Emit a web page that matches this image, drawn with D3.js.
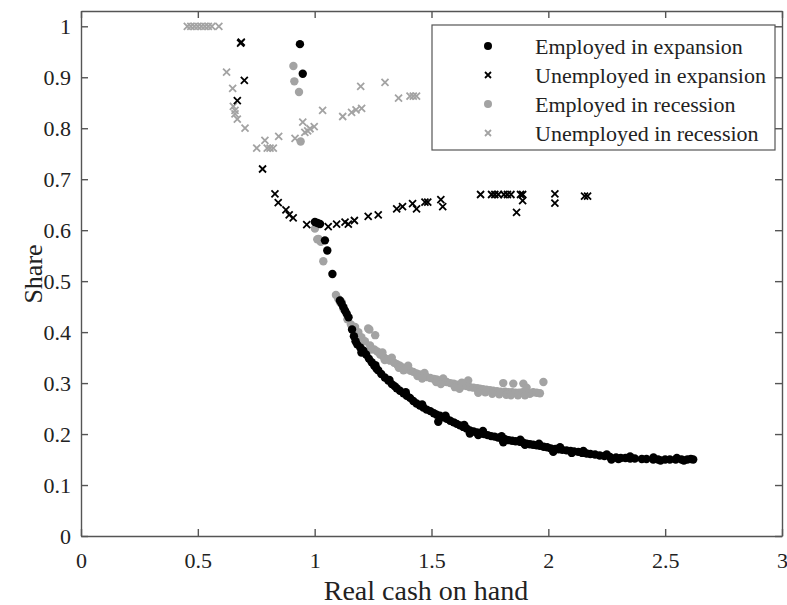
<!DOCTYPE html>
<html><head><meta charset="utf-8">
<script src="https://cdn.jsdelivr.net/npm/d3@7"></script>
<style>body{margin:0;background:#fff;} svg{display:block;}</style>
</head><body>
<script>
// ---- data ----
const xTicks = [0, 0.5, 1, 1.5, 2, 2.5, 3];
const yTicks = [0, 0.1, 0.2, 0.3, 0.4, 0.5, 0.6, 0.7, 0.8, 0.9, 1];
const xLabel = "Real cash on hand";
const yLabel = "Share";
const seriesNames = ["Employed in expansion", "Unemployed in expansion", "Employed in recession", "Unemployed in recession"];

const employedExpansion = [
[0.937,0.965],[0.949,0.907],[1.001,0.616],[1.012,0.614],[1.023,0.612],[1.044,0.580],[1.054,0.560],[1.076,0.514],
[1.108,0.462],[1.115,0.456],[1.123,0.449],[1.130,0.442],[1.137,0.436],[1.145,0.429],[1.160,0.405],[1.168,0.392],
[1.175,0.382],[1.182,0.376],[1.195,0.370],[1.208,0.364],[1.220,0.356],[1.232,0.348],[1.244,0.341],[1.255,0.334],
[1.265,0.328],[1.272,0.325],[1.285,0.318],[1.300,0.311],[1.315,0.305],[1.330,0.298],[1.342,0.294],[1.351,0.290],
[1.365,0.285],[1.380,0.280],[1.394,0.275],[1.408,0.271],[1.422,0.265],[1.436,0.260],[1.450,0.256],[1.465,0.252],
[1.479,0.248],[1.495,0.245],[1.510,0.241],[1.522,0.238],[1.529,0.224],[1.536,0.236],[1.550,0.233],[1.565,0.230],
[1.580,0.226],[1.595,0.223],[1.608,0.220],[1.622,0.217],[1.636,0.214],[1.650,0.211],[1.664,0.207],[1.664,0.201],
[1.680,0.205],[1.695,0.203],[1.710,0.201],[1.725,0.200],[1.740,0.198],[1.755,0.196],[1.770,0.195],[1.785,0.193],
[1.800,0.191],[1.807,0.184],[1.815,0.190],[1.830,0.188],[1.845,0.187],[1.860,0.186],[1.878,0.185],[1.893,0.183],
[1.907,0.181],[1.921,0.180],[1.935,0.179],[1.950,0.178],[1.964,0.177],[1.980,0.175],[1.995,0.174],[2.010,0.172],
[2.021,0.165],[2.030,0.171],[2.045,0.170],[2.060,0.169],[2.078,0.168],[2.095,0.167],[2.110,0.166],[2.128,0.165],
[2.145,0.163],[2.164,0.162],[2.180,0.161],[2.200,0.160],[2.220,0.158],[2.240,0.157],[2.264,0.155],[2.270,0.150],
[2.290,0.154],[2.310,0.153],[2.330,0.153],[2.350,0.152],[2.370,0.152],[2.400,0.151],[2.420,0.151],[2.449,0.150],
[2.470,0.150],[2.500,0.150],[2.520,0.150],[2.545,0.150],[2.570,0.150],[2.595,0.150],[2.610,0.151],[2.620,0.150],
[1.200,0.360],[1.260,0.335],[1.320,0.306],[1.390,0.282],[1.460,0.258],[1.560,0.236],[1.640,0.218],[1.720,0.206],
[1.800,0.196],[1.880,0.189],[1.960,0.181],[2.050,0.174],[2.150,0.167],[2.250,0.160],[2.350,0.156],[2.450,0.154],
[2.550,0.153],[1.700,0.198],[1.900,0.179],[2.100,0.163],[2.300,0.151],[2.480,0.148],[2.580,0.148]
];

const unemployedExpansion = [
[0.683,0.967],[0.686,0.969],[0.699,0.894],[0.669,0.854],[0.777,0.720],[0.830,0.671],[0.844,0.654],[0.877,0.640],
[0.891,0.630],[0.908,0.624],[0.966,0.611],[1.058,0.607],[1.094,0.612],[1.130,0.616],[1.144,0.612],[1.170,0.619],
[1.229,0.627],[1.272,0.630],[1.351,0.642],[1.376,0.646],[1.419,0.652],[1.436,0.642],[1.472,0.655],[1.484,0.655],
[1.540,0.660],[1.548,0.646],[1.710,0.670],[1.757,0.670],[1.771,0.670],[1.786,0.670],[1.810,0.670],[1.825,0.670],
[1.840,0.670],[1.881,0.670],[1.890,0.670],[1.890,0.658],[1.864,0.635],[2.028,0.671],[2.028,0.653],[2.155,0.667],
[2.168,0.667]
];

const employedRecession = [
[0.909,0.922],[0.913,0.892],[0.933,0.871],[0.940,0.774],[1.001,0.603],[1.011,0.582],[1.016,0.583],[1.026,0.577],
[1.037,0.539],[1.091,0.473],[1.101,0.465],[1.108,0.459],[1.115,0.459],[1.123,0.446],[1.140,0.425],[1.155,0.415],
[1.166,0.407],[1.173,0.410],[1.187,0.400],[1.200,0.390],[1.229,0.407],[1.234,0.405],[1.259,0.394],[1.215,0.382],
[1.237,0.374],[1.255,0.366],[1.268,0.362],[1.280,0.356],[1.295,0.351],[1.310,0.347],[1.323,0.344],[1.340,0.340],
[1.352,0.337],[1.365,0.334],[1.380,0.330],[1.394,0.327],[1.410,0.324],[1.422,0.322],[1.436,0.319],[1.450,0.317],
[1.465,0.314],[1.479,0.312],[1.495,0.310],[1.510,0.308],[1.522,0.307],[1.540,0.305],[1.555,0.303],[1.565,0.302],
[1.580,0.300],[1.595,0.299],[1.608,0.297],[1.622,0.296],[1.636,0.295],[1.650,0.294],[1.657,0.305],[1.665,0.292],
[1.680,0.291],[1.695,0.290],[1.707,0.289],[1.720,0.288],[1.735,0.287],[1.750,0.286],[1.764,0.285],[1.780,0.284],
[1.795,0.283],[1.807,0.300],[1.815,0.283],[1.830,0.282],[1.845,0.282],[1.850,0.299],[1.860,0.281],[1.875,0.281],
[1.893,0.299],[1.890,0.282],[1.907,0.291],[1.921,0.279],[1.935,0.282],[1.950,0.281],[1.979,0.302],[1.964,0.280],
[1.700,0.281],[1.760,0.279],[1.820,0.277],[1.870,0.276],[1.600,0.292],[1.520,0.302],[1.440,0.314],[1.360,0.330],
[1.290,0.360],[1.330,0.350],[1.400,0.334],[1.470,0.320],[1.550,0.309],[1.630,0.301],[1.240,0.366],[1.300,0.345],
[1.380,0.325],[1.460,0.309],[1.540,0.298],[1.620,0.289],[1.730,0.282],[1.790,0.278],[1.840,0.276],[1.900,0.276]
];

const unemployedRecession = [
[0.455,1.0],[0.470,1.0],[0.485,1.0],[0.500,1.0],[0.515,1.0],[0.530,1.0],[0.545,1.0],[0.560,1.0],[0.590,1.0],
[0.623,0.910],[0.649,0.878],[0.652,0.843],[0.659,0.835],[0.659,0.828],[0.669,0.818],[0.702,0.800],[0.752,0.761],
[0.787,0.776],[0.797,0.761],[0.809,0.761],[0.823,0.761],[0.846,0.784],[0.916,0.780],[0.949,0.812],[0.958,0.792],
[0.970,0.795],[0.980,0.799],[0.998,0.803],[1.034,0.835],[1.120,0.823],[1.158,0.831],[1.177,0.836],[1.201,0.839],
[1.197,0.882],[1.301,0.890],[1.359,0.859],[1.408,0.863],[1.422,0.863],[1.436,0.863]
];

// ---- chart ----
const W = 787, H = 605;
const margin = {left: 81, right: 5, top: 11, bottom: 69};
const svg = d3.select("body").append("svg").attr("width", W).attr("height", H);
const x = d3.scaleLinear().domain([0, 3]).range([margin.left, W - margin.right]);
const y = d3.scaleLinear().domain([0, 1.03]).range([H - margin.bottom, margin.top]);

const axisColor = "#555";
const font = "'Liberation Serif', 'Times New Roman', serif";
const fmt = d => d3.format("")(d);

function styleAxis(g) {
  g.selectAll("path.domain").attr("stroke", axisColor).attr("stroke-width", 1.4);
  g.selectAll(".tick line").attr("stroke", axisColor).attr("stroke-width", 1.4);
  g.selectAll(".tick text").attr("fill", "#222").style("font-family", font).style("font-size", "22px");
}

svg.append("g").attr("transform", `translate(0,${y(0)})`)
  .call(d3.axisBottom(x).tickValues(xTicks).tickFormat(fmt).tickSize(-7).tickSizeOuter(0).tickPadding(16))
  .call(styleAxis);
svg.append("g").attr("transform", `translate(0,${y(1.03)})`)
  .call(d3.axisTop(x).tickValues(xTicks).tickFormat("").tickSize(-7).tickSizeOuter(0))
  .call(styleAxis);
svg.append("g").attr("transform", `translate(${x(0)},0)`)
  .call(d3.axisLeft(y).tickValues(yTicks).tickFormat(fmt).tickSize(-7).tickSizeOuter(0).tickPadding(10))
  .call(styleAxis);
svg.append("g").attr("transform", `translate(${x(3)},0)`)
  .call(d3.axisRight(y).tickValues(yTicks).tickFormat("").tickSize(-7).tickSizeOuter(0))
  .call(styleAxis);

// axis titles
svg.append("text").attr("x", 426).attr("y", 600).attr("text-anchor", "middle")
  .style("font-family", font).style("font-size", "28px").attr("fill", "#222").text(xLabel);
svg.append("text").attr("transform", `translate(42,274) rotate(-90)`).attr("text-anchor", "middle")
  .style("font-family", font).style("font-size", "26px").attr("fill", "#222").text(yLabel);

const black = "#000", grey = "#a3a3a3";
const plot = svg.append("g");

function drawDots(data, color) {
  plot.append("g").selectAll("circle").data(data).join("circle")
    .attr("cx", d => x(d[0])).attr("cy", d => y(d[1])).attr("r", 4.2).attr("fill", color);
}
function xPath(cx, cy, s) {
  return `M${cx - s},${cy - s}L${cx + s},${cy + s}M${cx - s},${cy + s}L${cx + s},${cy - s}`;
}
function drawCrosses(data, color) {
  plot.append("g").selectAll("path").data(data).join("path")
    .attr("d", d => xPath(x(d[0]), y(d[1]), 3.5)).attr("stroke", color).attr("stroke-width", 1.8).attr("fill", "none");
}

drawCrosses(unemployedRecession, grey);
drawDots(employedRecession, grey);
drawCrosses(unemployedExpansion, black);
drawDots(employedExpansion, black);

// legend
const leg = svg.append("g");
leg.append("rect").attr("x", 432).attr("y", 25).attr("width", 343).attr("height", 125)
  .attr("fill", "#fff").attr("stroke", axisColor).attr("stroke-width", 1.2);
const legendStyles = [
  {type: "dot", color: black}, {type: "cross", color: black},
  {type: "dot", color: grey}, {type: "cross", color: grey}
];
seriesNames.forEach((name, i) => {
  const cy = 46 + i * 29;
  const st = legendStyles[i];
  if (st.type === "dot") leg.append("circle").attr("cx", 488).attr("cy", cy).attr("r", 4).attr("fill", st.color);
  else leg.append("path").attr("d", xPath(488, cy, 3)).attr("stroke", st.color).attr("stroke-width", 1.8).attr("fill", "none");
  leg.append("text").attr("x", 535).attr("y", cy).attr("dy", "0.35em")
    .style("font-family", font).style("font-size", "22px").attr("fill", "#222").text(name);
});
</script>
</body></html>
